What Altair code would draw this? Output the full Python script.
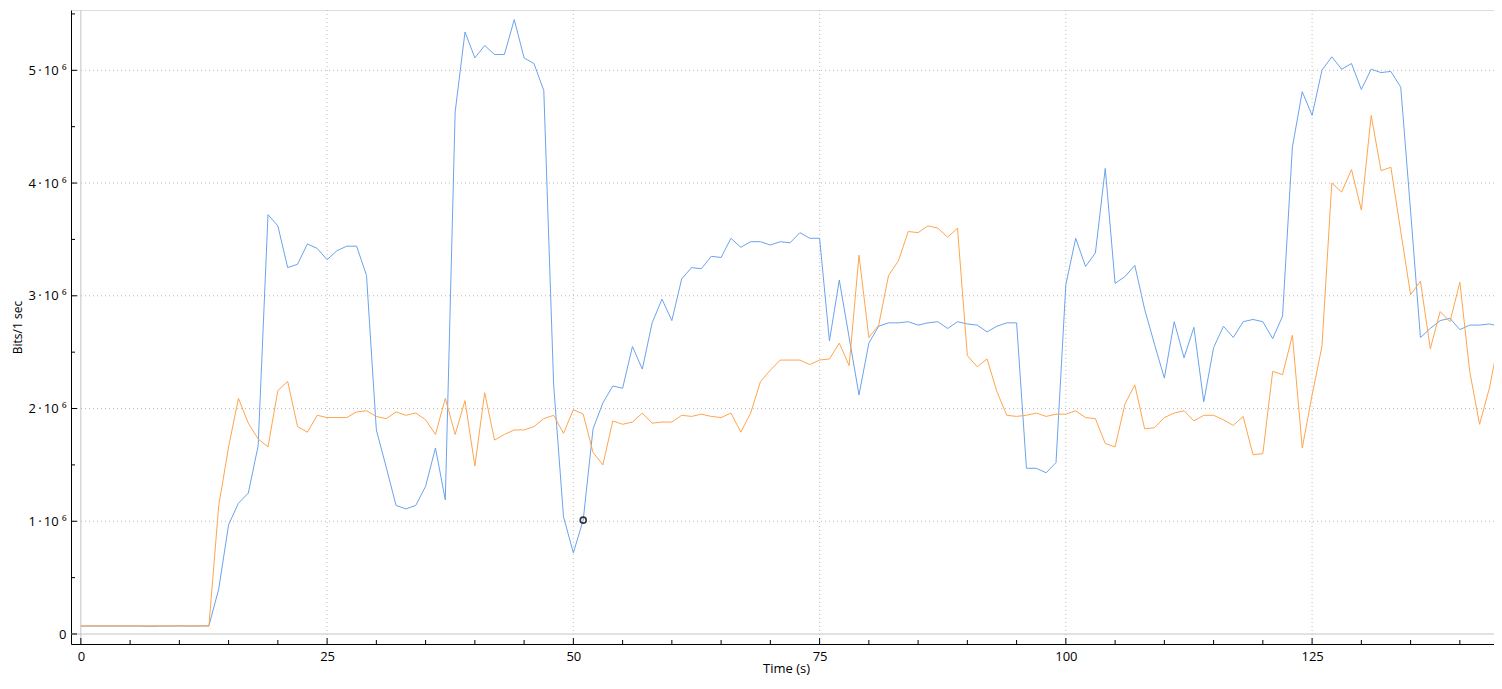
import altair as alt
import pandas as pd

# ---- data (Mbit/s per 1-second interval) ----
time_s = list(range(0, 146))

blue_m = [
    0.070, 0.071, 0.070, 0.071, 0.070, 0.071, 0.070, 0.068, 0.070, 0.070,
    0.071, 0.070, 0.071, 0.072, 0.40, 0.97, 1.16, 1.25, 1.67, 3.72,
    3.62, 3.25, 3.28, 3.46, 3.42, 3.32, 3.40, 3.44, 3.44, 3.18,
    1.81, 1.48, 1.14, 1.11, 1.14, 1.31, 1.65, 1.19, 4.63, 5.34,
    5.11, 5.22, 5.14, 5.14, 5.45, 5.11, 5.06, 4.82, 2.21, 1.04,
    0.72, 1.01, 1.82, 2.05, 2.20, 2.18, 2.55, 2.35, 2.76, 2.97,
    2.78, 3.15, 3.25, 3.24, 3.35, 3.34, 3.51, 3.43, 3.48, 3.48,
    3.45, 3.48, 3.47, 3.56, 3.51, 3.51, 2.60, 3.14, 2.63, 2.12,
    2.58, 2.73, 2.76, 2.76, 2.77, 2.74, 2.76, 2.77, 2.71, 2.77,
    2.75, 2.74, 2.68, 2.73, 2.76, 2.76, 1.47, 1.47, 1.43, 1.52,
    3.10, 3.51, 3.26, 3.38, 4.13, 3.11, 3.17, 3.27, 2.88, 2.57,
    2.27, 2.77, 2.45, 2.72, 2.06, 2.54, 2.73, 2.63, 2.77, 2.79,
    2.77, 2.62, 2.82, 4.32, 4.81, 4.60, 5.00, 5.12, 5.01, 5.06,
    4.83, 5.01, 4.98, 4.99, 4.85, 3.75, 2.63, 2.71, 2.78, 2.80,
    2.70, 2.74, 2.74, 2.75, 2.73, 0.10,
]

orange_m = [
    0.072, 0.072, 0.073, 0.072, 0.073, 0.072, 0.073, 0.072, 0.073, 0.072,
    0.073, 0.072, 0.073, 0.070, 1.14, 1.66, 2.09, 1.87, 1.73, 1.66,
    2.16, 2.24, 1.84, 1.79, 1.94, 1.92, 1.92, 1.92, 1.97, 1.98,
    1.93, 1.91, 1.97, 1.94, 1.96, 1.90, 1.77, 2.09, 1.77, 2.07,
    1.49, 2.14, 1.72, 1.77, 1.81, 1.81, 1.84, 1.91, 1.94, 1.78,
    1.99, 1.95, 1.61, 1.50, 1.89, 1.86, 1.88, 1.96, 1.87, 1.88,
    1.88, 1.94, 1.93, 1.95, 1.93, 1.92, 1.96, 1.79, 1.96, 2.24,
    2.34, 2.43, 2.43, 2.43, 2.39, 2.43, 2.44, 2.58, 2.38, 3.36,
    2.63, 2.74, 3.18, 3.31, 3.57, 3.56, 3.62, 3.60, 3.52, 3.60,
    2.47, 2.37, 2.44, 2.15, 1.94, 1.93, 1.94, 1.96, 1.93, 1.95,
    1.95, 1.98, 1.92, 1.91, 1.69, 1.66, 2.04, 2.21, 1.82, 1.83,
    1.92, 1.96, 1.98, 1.89, 1.94, 1.94, 1.90, 1.85, 1.93, 1.59,
    1.60, 2.33, 2.30, 2.65, 1.65, 2.12, 2.55, 4.00, 3.92, 4.12,
    3.76, 4.60, 4.11, 4.14, 3.57, 3.01, 3.13, 2.53, 2.86, 2.77,
    3.12, 2.33, 1.86, 2.18, 2.63, 0.10,
]

x_major = [0, 25, 50, 75, 100, 125]
x_minor = [t for t in range(5, 145, 5) if t % 25 != 0]
y_major = [0, 1e6, 2e6, 3e6, 4e6, 5e6]
y_minor = [0.5e6, 1.5e6, 2.5e6, 3.5e6, 4.5e6, 5.5e6]

marker_t = [51]
marker_v = [1.01e6]

BLUE = "#6aa3ee"
ORANGE = "#ffa54d"
FONT = "Open Sans"

W, H = 1423, 634
X_DOM = [-1.0, -1.0 + W / 9.85]
Y_DOM = [-0.0887e6, 5.535e6]

rows = []
for t, b, o in zip(time_s, blue_m, orange_m):
    rows.append({"t": t, "v": b * 1e6, "s": "a"})
    rows.append({"t": t, "v": o * 1e6, "s": "b"})
df = pd.DataFrame(rows)

xs = alt.Scale(domain=X_DOM, nice=False, zero=False)
ys = alt.Scale(domain=Y_DOM, nice=False, zero=False)

AX = alt.Axis(values=x_major, title="Time (s)", ticks=False, grid=False,
              domainColor="black", domainWidth=1,
              labelFont=FONT, labelFontSize=13, labelColor="black", labelPadding=6,
              titleFont=FONT, titleFontSize=13, titleFontWeight="normal",
              titleColor="black", titleX=715, titleY=28, titleBaseline="alphabetic")
AY = alt.Axis(values=y_major, title="Bits/1 sec", ticks=False, grid=False,
              domainColor="black", domainWidth=1,
              labelExpr="datum.value == 0 ? '0' : format(datum.value / 1e6, 'd') + '\u2009·\u200910 ⁶'",
              labelFont=FONT, labelFontSize=13, labelColor="black", labelPadding=5,
              titleFont=FONT, titleFontSize=12, titleFontWeight="normal",
              titleColor="black", titlePadding=4)


def X(field="t"):
    return alt.X(f"{field}:Q", scale=xs, axis=AX, title="Time (s)")


def Y(field="v"):
    return alt.Y(f"{field}:Q", scale=ys, axis=AY, title="Bits/1 sec")


xg = pd.DataFrame({"t": [v for v in x_major if v != 0]})
yg = pd.DataFrame({"v": [v for v in y_major if v != 0]})

lines = alt.Chart(df).mark_line(strokeWidth=1, clip=True).encode(
    x=X(), y=Y(),
    color=alt.Color("s:N", scale=alt.Scale(domain=["a", "b"], range=[BLUE, ORANGE]), legend=None),
    detail="s:N",
)

grid_x = alt.Chart(xg).mark_rule(color="#bdbdbd", strokeDash=[1, 3], strokeWidth=1).encode(x=X())
grid_y = alt.Chart(yg).mark_rule(color="#bdbdbd", strokeDash=[1, 3], strokeWidth=1).encode(y=Y())

zero_x = alt.Chart(pd.DataFrame({"t": [0]})).mark_rule(color="#c4c4c4", strokeWidth=1).encode(x=X())
zero_y = alt.Chart(pd.DataFrame({"v": [0]})).mark_rule(color="#c4c4c4", strokeWidth=1).encode(y=Y())

xt_major = alt.Chart(pd.DataFrame({"t": x_major})).mark_rule(color="black").encode(
    x=X(), y=alt.value(H), y2=alt.value(H - 6))
xt_minor = alt.Chart(pd.DataFrame({"t": x_minor})).mark_rule(color="black").encode(
    x=X(), y=alt.value(H), y2=alt.value(H - 4))
yt_major = alt.Chart(pd.DataFrame({"v": y_major})).mark_rule(color="black").encode(
    y=Y(), x=alt.value(0), x2=alt.value(6))
yt_minor = alt.Chart(pd.DataFrame({"v": y_minor})).mark_rule(color="black").encode(
    y=Y(), x=alt.value(0), x2=alt.value(4))

marker = alt.Chart(pd.DataFrame({"t": marker_t, "v": marker_v})).mark_point(
    shape="circle", size=36, filled=False, stroke="#333333", strokeWidth=1.6, opacity=1).encode(
    x=X(), y=Y())

chart = alt.layer(
    grid_x, grid_y, zero_x, zero_y, lines, xt_major, xt_minor, yt_major, yt_minor, marker
).properties(
    width=W, height=H,
    autosize=alt.AutoSizeParams(type="none"),
    padding={"left": 63, "top": 2, "right": 0, "bottom": 31},
).configure_view(strokeWidth=0, stroke="transparent").configure(background="white")

chart.save("out.html", embed_options={"renderer": "svg", "actions": False})
